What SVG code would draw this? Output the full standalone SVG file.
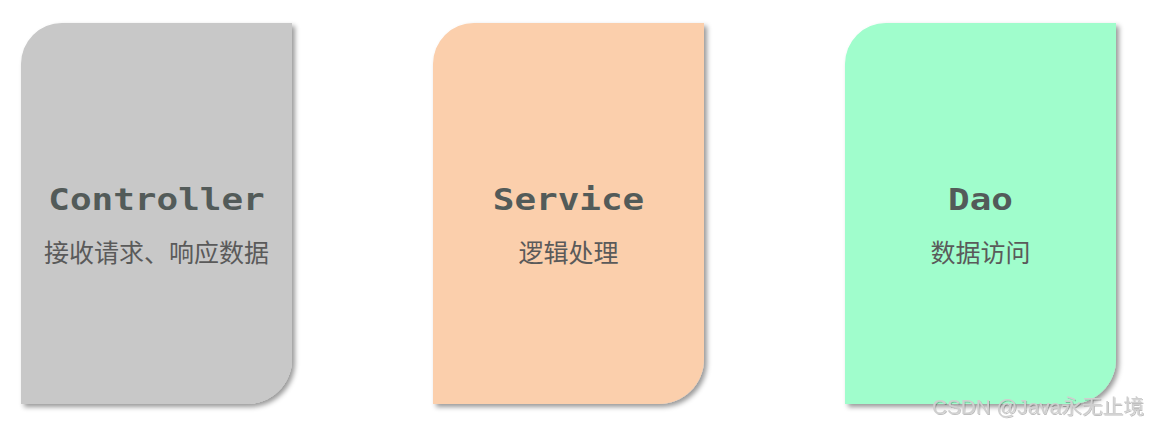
<svg xmlns="http://www.w3.org/2000/svg" width="1149" height="426" viewBox="0 0 1149 426">
<defs>
<filter id="sh" x="-10%" y="-10%" width="125%" height="125%">
<feDropShadow dx="3" dy="3" stdDeviation="2.5" flood-color="#000" flood-opacity="0.4"/>
</filter>
<filter id="wm" x="-5%" y="-20%" width="110%" height="150%">
<feDropShadow dx="1" dy="1" stdDeviation="0.6" flood-color="#000" flood-opacity="0.25"/>
</filter>
<path id="card" d="M0,41 A41,41 0 0 1 41,0 H271 V336 A45,45 0 0 1 226,381 H0 Z"/>
</defs>
<style>
.title{font-family:"DejaVu Sans Mono","Liberation Mono",monospace;font-weight:bold;font-size:31px;fill:#535b59;text-anchor:middle}
.sub{font-family:"Noto Sans CJK SC","Noto Sans",sans-serif;font-size:25px;fill:#5a5a5a;text-anchor:middle}
.wm{font-family:"Liberation Sans","Noto Sans CJK SC",sans-serif;font-size:20.7px;fill:#cfcfcf}
</style>
<rect width="1149" height="426" fill="#fff"/>
<g id="controller">
<use href="#card" x="21" y="23" fill="#c8c8c8" filter="url(#sh)"/>
<text class="title" transform="translate(156.5,209.5) scale(1.16,1)">Controller</text>
<text class="sub" x="156.5" y="262">接收请求、响应数据</text>
</g>
<g id="service">
<use href="#card" x="433" y="23" fill="#fbcfac" filter="url(#sh)"/>
<text class="title" transform="translate(568.5,209.5) scale(1.16,1)">Service</text>
<text class="sub" x="568.5" y="262">逻辑处理</text>
</g>
<g id="dao">
<use href="#card" x="845" y="23" fill="#a0fdcc" filter="url(#sh)"/>
<text class="title" transform="translate(980.5,209.5) scale(1.16,1)">Dao</text>
<text class="sub" x="980.5" y="262">数据访问</text>
</g>
<g id="connectors"></g>
<text class="wm" x="932" y="414" filter="url(#wm)">CSDN @Java永无止境</text>
</svg>
